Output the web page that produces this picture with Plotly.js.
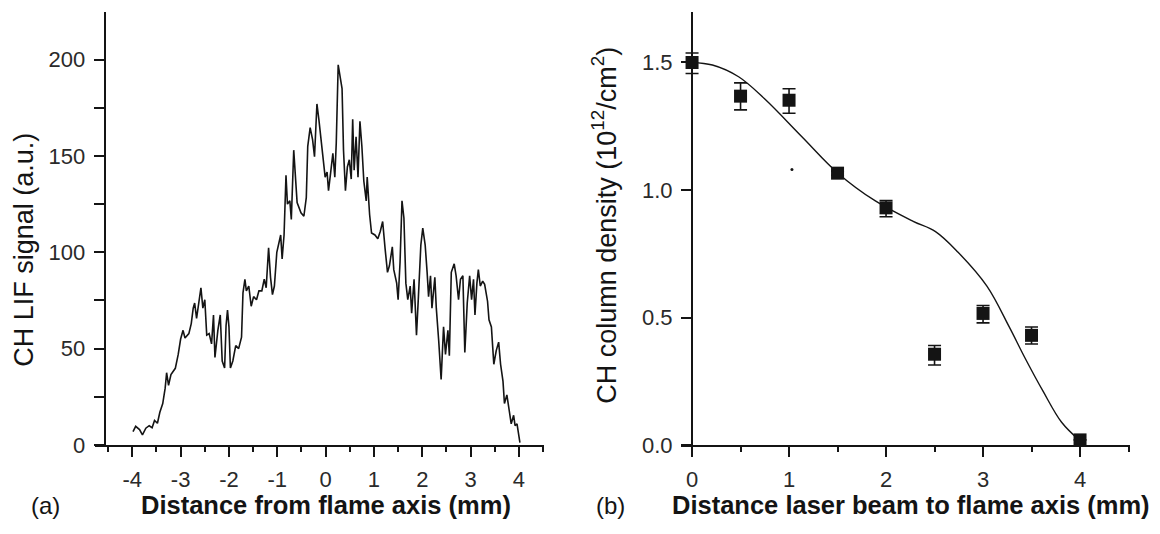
<!DOCTYPE html>
<html>
<head>
<meta charset="utf-8">
<script src="https://cdn.plot.ly/plotly-3.0.1.min.js"></script>
<style>
  html, body { margin: 0; padding: 0; background: #fff; }
  #chart { width: 1160px; height: 534px; }
</style>
</head>
<body>
<div id="chart"></div>
<script>
// (a) CH LIF signal across the flame
const posA = [-3.985,-3.93,-3.85,-3.79,-3.72,-3.65,-3.59,-3.54,-3.48,-3.43,-3.37,-3.32,-3.29,-3.25,-3.2,-3.11,-3.05,-3.0,-2.95,-2.91,-2.83,-2.78,-2.74,-2.71,-2.67,-2.63,-2.58,-2.54,-2.5,-2.46,-2.41,-2.36,-2.32,-2.29,-2.23,-2.18,-2.14,-2.09,-2.06,-2.03,-2.0,-1.97,-1.92,-1.86,-1.80,-1.74,-1.71,-1.67,-1.64,-1.59,-1.54,-1.49,-1.43,-1.38,-1.32,-1.27,-1.23,-1.18,-1.14,-1.10,-1.06,-1.01,-0.97,-0.93,-0.90,-0.86,-0.82,-0.79,-0.74,-0.71,-0.66,-0.62,-0.59,-0.51,-0.45,-0.40,-0.37,-0.32,-0.27,-0.23,-0.18,-0.14,-0.10,-0.06,-0.01,0.03,0.06,0.11,0.15,0.19,0.22,0.26,0.30,0.34,0.37,0.41,0.45,0.49,0.53,0.56,0.59,0.63,0.67,0.71,0.75,0.79,0.84,0.86,0.91,0.95,1.02,1.08,1.13,1.18,1.23,1.28,1.32,1.38,1.41,1.47,1.50,1.54,1.58,1.62,1.66,1.70,1.75,1.78,1.83,1.88,1.92,1.97,2.01,2.06,2.10,2.13,2.17,2.20,2.26,2.29,2.34,2.39,2.44,2.48,2.53,2.56,2.60,2.66,2.70,2.75,2.79,2.84,2.88,2.93,2.98,3.02,3.06,3.09,3.13,3.16,3.20,3.25,3.29,3.35,3.38,3.43,3.48,3.53,3.58,3.62,3.67,3.70,3.75,3.80,3.84,3.89,3.92,3.96,4.0,4.02];
const signalA = [6.9,9.7,8,5.3,8.7,10,9,12.7,11.3,17,21.5,29.5,37.5,31,36.6,39.8,47,55,59.5,55.5,57.8,63,71,73.7,65.7,72.8,81.6,71,75.4,57,57.8,52.5,67.5,45.4,59.5,67.5,43.6,40,62,70,61.3,40,43.6,51.6,50,56,79,86,80,82.5,72,77,75.4,80,80,86,81.6,102.3,87,78,82.5,100,104.6,109,96.6,109,140,125,126.7,117,153,139,125.8,120.5,118.7,128.4,155,164.7,158.5,149.6,177,169,160,150,139,141.7,132,142.6,151.4,139,156.7,197.3,190.3,185,153,132,144.3,148,138,169,142.6,160,139,168,155,137,126.7,139,119.6,110,109,107,110.8,116,102,89.6,93,102.8,91,84,75.4,95,126.7,117.8,84,75.4,82.5,68.4,86,57,77,103.7,112.5,103.7,89.6,77,87.8,71,87,71,54,34,61.3,47,59.5,46.3,89.6,94,87.8,75.4,86,87.8,48,73.7,87.8,75.4,86,67.5,84,91,82.5,85,83.4,74.6,65,61.3,41.9,49,53.4,41.9,33,21.5,26,18,11,15.4,10,11,3,1.2];
const ticksXA = [-4,-3,-2,-1,0,1,2,3,4];
const tickTextXA = ['-4','-3','-2','-1','0','1','2','3','4'];
const minorXA = [-4.5,-3.5,-2.5,-1.5,-0.5,0.5,1.5,2.5,3.5,4.5];
const ticksYA = [0,50,100,150,200];
const minorYA = [25,75,125,175];

// (b) CH column density versus beam offset
const distB = [0,0.5,1,1.5,2,2.5,3,3.5,4];
const densB = [1.50,1.368,1.352,1.066,0.93,0.356,0.516,0.43,0.02];
const errUpB = [0.037,0.052,0.045,0.008,0.029,0.034,0.031,0.033,0];
const errDownB = [0.043,0.054,0.051,0.008,0.035,0.042,0.037,0.034,0];
const fitX = [0,0.21,0.48,0.75,1.13,1.51,1.89,2.28,2.51,2.74,3.04,3.27,3.43,3.62,3.81,4.0];
const fitY = [1.50,1.49,1.444,1.357,1.21,1.064,0.957,0.877,0.837,0.757,0.623,0.463,0.343,0.21,0.089,0.016];
const strayX = [1.03];
const strayY = [1.08];
const ticksXB = [0,1,2,3,4];
const minorXB = [0.5,1.5,2.5,3.5,4.5];
const ticksYB = [0,0.5,1.0,1.5];
const tickTextYB = ['0.0','0.5','1.0','1.5'];

const W = 1160, H = 534, TOP = 12.4, AXIS_Y = 445;
const px = v => v / W;
const py = v => (AXIS_Y - v) / (AXIS_Y - TOP);

const ink = '#141414';
const labelInk = '#2a2a2a';
const FAMILY = 'Liberation Sans, Arial, sans-serif';
const tickFont = {family: FAMILY, size: 22, color: labelInk};

function axisBase() {
  return {
    showline: true, linewidth: 2, linecolor: ink,
    ticks: 'outside', tickwidth: 2, tickcolor: ink,
    showgrid: false, zeroline: false, tickfont: tickFont,
    tickmode: 'array', fixedrange: true, ticklabelstandoff: 4
  };
}

const traces = [
  {x: posA, y: signalA, xaxis: 'x', yaxis: 'y', mode: 'lines',
   line: {color: ink, width: 1.6}, hoverinfo: 'skip', cliponaxis: false},
  {x: fitX, y: fitY, xaxis: 'x2', yaxis: 'y2', mode: 'lines',
   line: {color: ink, width: 1.4, shape: 'spline', smoothing: 1}, hoverinfo: 'skip'},
  {x: distB, y: densB, xaxis: 'x2', yaxis: 'y2', mode: 'markers', cliponaxis: false,
   marker: {symbol: 'square', size: 13, color: ink},
   error_y: {type: 'data', symmetric: false, array: errUpB, arrayminus: errDownB,
             color: ink, thickness: 1.6, width: 6.5}},
  {x: strayX, y: strayY, xaxis: 'x2', yaxis: 'y2', mode: 'markers',
   marker: {size: 3, color: ink}, hoverinfo: 'skip'}
];

function label(text, x, y, size, extra) {
  return Object.assign({text: text, x: px(x), y: py(y), xref: 'paper', yref: 'paper',
    xanchor: 'center', yanchor: 'middle', showarrow: false,
    font: {family: FAMILY, size: size, color: ink}}, extra || {});
}

const layout = {
  width: W, height: H, showlegend: false,
  paper_bgcolor: '#fff', plot_bgcolor: 'rgba(0,0,0,0)',
  margin: {l: 0, r: 0, t: TOP, b: H - AXIS_Y, pad: 0},
  xaxis: Object.assign(axisBase(), {
    domain: [px(94.6), px(543.6)], range: [-4.78, 4.51], anchor: 'y',
    tickvals: ticksXA, ticktext: tickTextXA, ticklen: 10,
    minor: {tickmode: 'array', tickvals: minorXA, ticklen: 5, tickwidth: 2, tickcolor: ink, ticks: 'outside', showgrid: false}
  }),
  yaxis: Object.assign(axisBase(), {
    domain: [0, 1], range: [0, 224.7], anchor: 'free', position: px(104.6),
    tickvals: ticksYA, ticklen: 10,
    minor: {tickmode: 'array', tickvals: minorYA, ticklen: 10, tickwidth: 2, tickcolor: ink, ticks: 'outside', showgrid: false}
  }),
  xaxis2: Object.assign(axisBase(), {
    domain: [px(680.7), px(1129.5)], range: [-0.117, 4.51], anchor: 'y2',
    tickvals: ticksXB, ticklen: 10,
    minor: {tickmode: 'array', tickvals: minorXB, ticklen: 5, tickwidth: 2, tickcolor: ink, ticks: 'outside', showgrid: false}
  }),
  yaxis2: Object.assign(axisBase(), {
    domain: [0, 1], range: [0, 1.698], anchor: 'free', position: px(692),
    tickvals: ticksYB, ticktext: tickTextYB, ticklen: 10
  }),
  annotations: [
    label('(a)', 45, 505, 24),
    label('<b>Distance from flame axis (mm)</b>', 326, 505, 25.5),
    label('CH LIF signal (a.u.)', 24, 250, 27, {textangle: -90}),
    label('(b)', 610, 505, 24),
    label('<b>Distance laser beam to flame axis (mm)</b>', 911, 505, 25.5),
    label('CH column density (10<sup>12</sup>/cm<sup>2</sup>)', 604, 226, 27, {textangle: -90})
  ]
};

Plotly.newPlot('chart', traces, layout, {staticPlot: true, displayModeBar: false});
</script>
</body>
</html>
